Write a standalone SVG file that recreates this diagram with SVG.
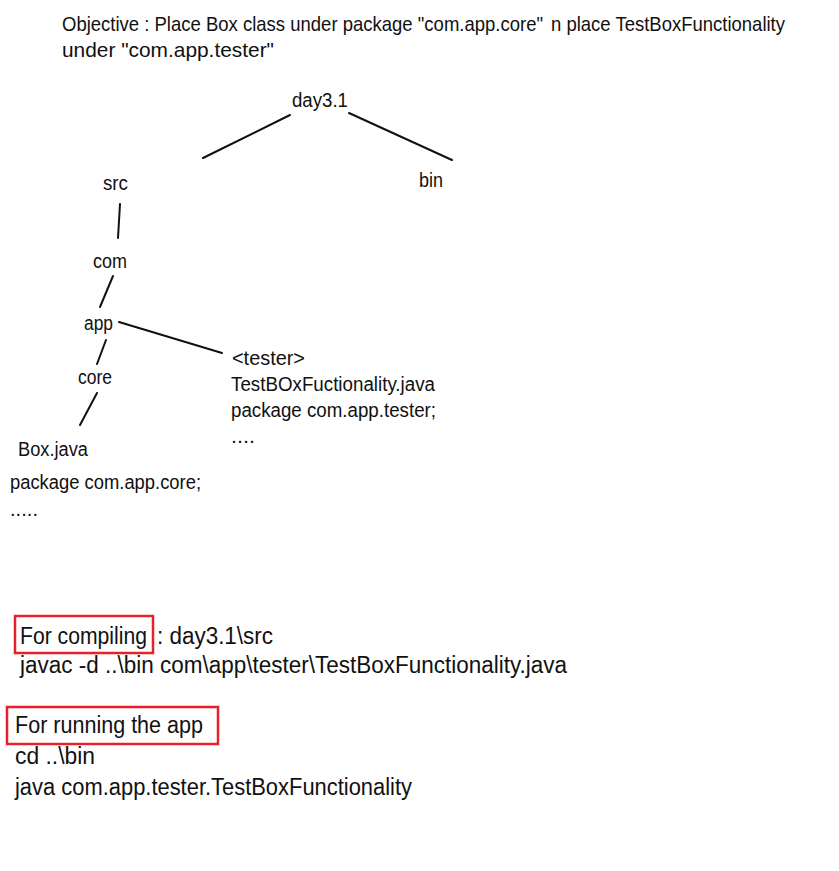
<svg xmlns="http://www.w3.org/2000/svg" width="839" height="871" viewBox="0 0 839 871">
<style>
text{font-family:"Liberation Sans",Arial,sans-serif;font-size:20px;fill:#111;}
.t{font-size:21px;}
.b{font-size:23px;}
.ln{stroke:#111;stroke-width:2;fill:none;stroke-linecap:round;}
.hl{stroke:#e8202a;stroke-width:2.5;fill:none;}
</style>
<rect width="839" height="871" fill="#ffffff"/>
<g id="objective">
<text class="t" x="62" y="31" textLength="481" lengthAdjust="spacingAndGlyphs">Objective : Place Box class under package "com.app.core"</text>
<text class="t" x="551" y="31" textLength="234" lengthAdjust="spacingAndGlyphs">n place TestBoxFunctionality</text>
<text class="t" x="62" y="57" textLength="212" lengthAdjust="spacingAndGlyphs">under "com.app.tester"</text>
</g>
<g id="connectors">
<line class="ln" x1="290" y1="115" x2="203" y2="158"/>
<line class="ln" x1="349" y1="113" x2="452" y2="160"/>
<line class="ln" x1="120" y1="204" x2="118" y2="238"/>
<line class="ln" x1="113" y1="276" x2="100" y2="307"/>
<line class="ln" x1="119" y1="322" x2="222" y2="353"/>
<line class="ln" x1="106" y1="340" x2="97" y2="364"/>
<line class="ln" x1="97" y1="393" x2="80" y2="425"/>
</g>
<g id="node-day31"><text x="292" y="107" textLength="56" lengthAdjust="spacingAndGlyphs">day3.1</text></g>
<g id="node-src"><text x="103" y="190" textLength="25" lengthAdjust="spacingAndGlyphs">src</text></g>
<g id="node-bin"><text x="419" y="187" textLength="24" lengthAdjust="spacingAndGlyphs">bin</text></g>
<g id="node-com"><text x="93" y="268" textLength="34" lengthAdjust="spacingAndGlyphs">com</text></g>
<g id="node-app"><text x="84" y="330" textLength="29" lengthAdjust="spacingAndGlyphs">app</text></g>
<g id="node-core"><text x="78" y="384" textLength="34" lengthAdjust="spacingAndGlyphs">core</text></g>
<g id="node-box">
<text x="18" y="456" textLength="70" lengthAdjust="spacingAndGlyphs">Box.java</text>
<text x="10" y="489" textLength="191" lengthAdjust="spacingAndGlyphs">package com.app.core;</text>
<text x="10" y="516" textLength="28" lengthAdjust="spacingAndGlyphs">.....</text>
</g>
<g id="node-tester">
<text x="232" y="365" textLength="73" lengthAdjust="spacingAndGlyphs">&lt;tester&gt;</text>
<text x="231" y="391" textLength="204" lengthAdjust="spacingAndGlyphs">TestBOxFuctionality.java</text>
<text x="231" y="417" textLength="205" lengthAdjust="spacingAndGlyphs">package com.app.tester;</text>
<text x="231" y="443" textLength="24" lengthAdjust="spacingAndGlyphs">....</text>
</g>
<g id="compiling">
<rect class="hl" x="15" y="616" width="138" height="37"/>
<text class="b" x="20" y="644" textLength="127" lengthAdjust="spacingAndGlyphs">For compiling</text>
<text class="b" x="157" y="644" textLength="116" lengthAdjust="spacingAndGlyphs">: day3.1\src</text>
<text class="b" x="20" y="673" textLength="547" lengthAdjust="spacingAndGlyphs">javac -d ..\bin com\app\tester\TestBoxFunctionality.java</text>
</g>
<g id="running">
<rect class="hl" x="7" y="707" width="211" height="37"/>
<text class="b" x="15" y="733" textLength="188" lengthAdjust="spacingAndGlyphs">For running the app</text>
<text class="b" x="15" y="764" textLength="80" lengthAdjust="spacingAndGlyphs">cd ..\bin</text>
<text class="b" x="15" y="795" textLength="397" lengthAdjust="spacingAndGlyphs">java com.app.tester.TestBoxFunctionality</text>
</g>
</svg>
